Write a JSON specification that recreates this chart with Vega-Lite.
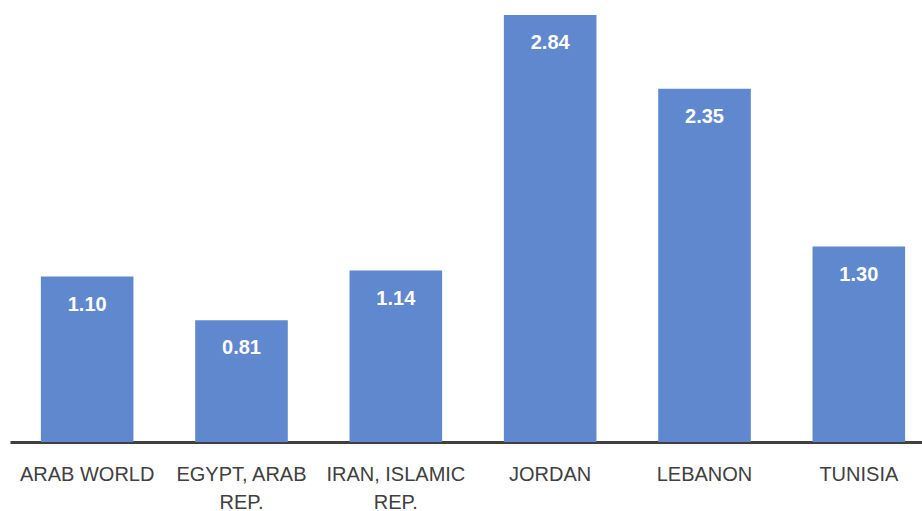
{
  "$schema": "https://vega.github.io/schema/vega-lite/v6.json",
  "autosize": {"type": "none"},
  "width": 926,
  "height": 427,
  "padding": {"left": 10, "top": 15, "right": 0, "bottom": 69},
  "background": "white",
  "config": {"view": {"stroke": null}},
  "data": {
    "values": [
      {"country": "ARAB WORLD", "value": 1.10},
      {"country": "EGYPT, ARAB REP.", "value": 0.81},
      {"country": "IRAN, ISLAMIC REP.", "value": 1.14},
      {"country": "JORDAN", "value": 2.84},
      {"country": "LEBANON", "value": 2.35},
      {"country": "TUNISIA", "value": 1.30}
    ]
  },
  "encoding": {
    "x": {
      "field": "country",
      "type": "nominal",
      "sort": null,
      "scale": {"paddingInner": 0.4, "paddingOuter": 0.2},
      "axis": {
        "title": null,
        "labelAngle": 0,
        "ticks": false,
        "domainColor": "#404040",
        "domainWidth": 3,
        "labelFont": "Liberation Sans",
        "labelFontSize": 20,
        "labelColor": "#404040",
        "labelPadding": 22,
        "labelLineHeight": 28,
        "labelLimit": 300,
        "labelExpr": "datum.label == 'EGYPT, ARAB REP.' ? ['EGYPT, ARAB', 'REP.'] : datum.label == 'IRAN, ISLAMIC REP.' ? ['IRAN, ISLAMIC', 'REP.'] : datum.label"
      }
    },
    "y": {
      "field": "value",
      "type": "quantitative",
      "scale": {"domain": [0, 2.84], "nice": false, "zero": true},
      "axis": null
    }
  },
  "layer": [
    {"mark": {"type": "bar", "color": "#6088CF"}},
    {
      "mark": {"type": "text", "color": "white", "font": "Liberation Sans", "fontWeight": "bold", "fontSize": 20, "baseline": "middle", "dy": 28},
      "encoding": {"text": {"field": "value", "type": "quantitative", "format": ".2f"}}
    }
  ]
}
